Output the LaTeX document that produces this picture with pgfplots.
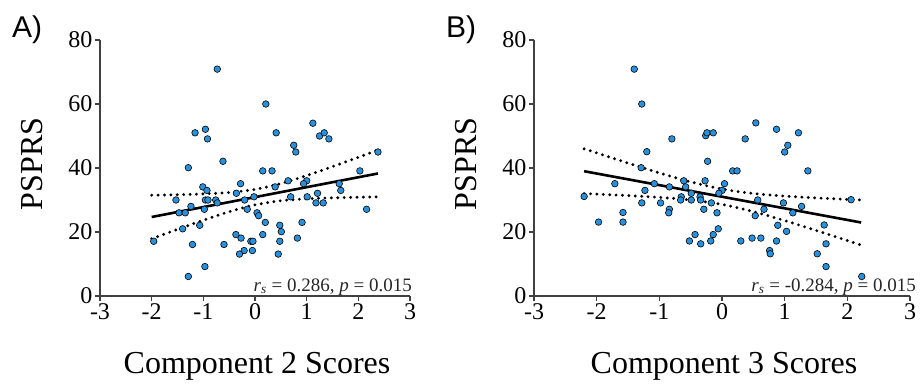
\documentclass[border=0pt]{standalone}
\usepackage{pgfplots}
\pgfplotsset{compat=1.18}
\usepackage{fontspec}
\setmainfont{Liberation Serif}
\newfontfamily\sansA{Liberation Sans}
\definecolor{dotblue}{RGB}{40,145,222}
\definecolor{axgray}{RGB}{64,64,64}

\begin{document}
\begin{tikzpicture}
\useasboundingbox (0,0) rectangle (920pt,384pt);
\pgfplotsset{
  myaxis/.style={
    scale only axis, height=256pt, anchor=south west,
    xmin=-3, xmax=3, ymin=0, ymax=80,
    axis x line*=bottom, axis y line*=left,
    tick align=outside, major tick length=5pt,
    xtick={-3,-2,-1,0,1,2,3}, xticklabels={-3,-2,-1,0,1,2,3},
    ytick={0,20,40,60,80}, yticklabels={0,20,40,60,80},
    tick label style={font=\fontsize{24}{24}\selectfont, inner sep=2.5pt},
    axis line style={line width=1.5pt, color=axgray},
    tick style={line width=1.3pt, color=axgray},
    clip=false,
  },
  pts/.style={only marks, mark=*, mark size=3.3pt, mark options={fill=dotblue, draw=black, line width=0.6pt}},
  fit/.style={black, line width=2.6pt, no marks},
  ci/.style={black, line width=3.2pt, dash pattern=on 0pt off 6.4pt, line cap=round, no marks, smooth},
}

% ---------------- Panel A ----------------
\begin{axis}[myaxis, width=310pt, at={(100pt,88pt)}]
\addplot[ci] coordinates {(-2,31.50) (-1.5,31.65) (-1,31.91) (-0.5,32.36) (0,33.32) (0.5,35.14) (1,37.64) (1.5,40.44) (2,43.35) (2.38,45.61)};
\addplot[ci] coordinates {(-2,17.88) (-1.5,20.83) (-1,23.69) (-0.5,26.34) (0,28.48) (0.5,29.76) (1,30.38) (1.5,30.68) (2,30.87) (2.38,30.97)};
\addplot[fit] coordinates {(-2,24.69) (2.38,38.29)};
\addplot[pts] coordinates {
(-0.73,70.9) (0.21,60) (1.12,54) (-0.96,52.1) (-1.16,51.0) (-0.92,49.1) (0.41,51.0)
(1.25,50) (1.34,51) (1.43,49.1) (0.75,47.1) (0.79,45) (2.38,45) (-0.62,42.1)
(-1.29,40.1) (0.15,39.1) (0.33,39.1) (2.03,39.1) (1.0,36) (0.94,35.1) (1.63,35.1)
(0.64,36) (-0.28,35.1) (0.39,34.1) (-1.01,34.1) (-0.93,33) (-0.36,32.1) (1.66,33)
(1.21,32.1) (-0.02,31) (0.69,31) (1.01,31) (-1.53,30) (-0.96,30) (-0.91,30)
(-0.76,30) (-0.2,30) (1.18,29.1) (1.32,29.1) (-0.73,29.1) (-1.24,28) (-0.98,27.1)
(-0.15,27.1) (2.16,27.1) (-1.47,26) (-1.35,26) (0.04,26) (0.07,25.1) (0.2,23)
(0.91,23) (-1.07,22.1) (0.48,22.1) (-1.4,21) (0.51,20.1) (-0.37,19.2) (0.15,19.2)
(-0.27,18.1) (0.82,18.1) (-1.96,17.1) (-0.08,17.1) (-0.04,17.1) (0.48,17.1)
(-1.21,16.1) (-0.6,16.1) (-0.21,14.2) (-0.05,14.2) (-0.3,13.1) (0.45,13.1)
(-0.97,9.2) (-1.29,6.1)};
\node[anchor=base east, inner sep=0pt, font=\fontsize{19}{19}\selectfont, text=black!85]
  at (rel axis cs:1,0) [xshift=2pt, yshift=5pt] {\textit{r}\textsubscript{\textit{s}} = 0.286, \textit{p} = 0.015};
\end{axis}

% ---------------- Panel B ----------------
\begin{axis}[myaxis, width=376pt, at={(534pt,88pt)}]
\addplot[ci] coordinates {(-2.2,45.99) (-1.5,41.54) (-1,38.48) (-0.5,35.66) (0,33.42) (0.5,32.04) (1,31.22) (1.5,30.66) (2,30.19) (2.2,30.03)};
\addplot[ci] coordinates {(-2.2,32.01) (-1.5,31.38) (-1,30.82) (-0.5,30.0) (0,28.62) (0.5,26.38) (1,23.56) (1.5,20.5) (2,17.33) (2.2,16.05)};
\addplot[fit] coordinates {(-2.2,39.0) (2.22,22.97)};
\addplot[pts] coordinates {
(-1.40,70.9) (-1.28,60) (0.54,54.1) (0.87,52.1) (1.22,51) (-0.26,50.1) (-0.24,51)
(-0.14,51) (-0.8,49.1) (0.37,49.1) (1.05,47.1) (1.0,45) (-1.2,45.1) (-0.23,42.1)
(-1.29,40.1) (0.17,39.1) (0.24,39.1) (1.37,39.1) (-0.61,36) (-0.27,36) (-1.71,35.1)
(-1.08,35.1) (-0.84,34.1) (-0.58,34.1) (0.04,35.1) (0,33) (-0.05,32.1) (-1.23,33)
(-0.49,32.1) (-0.65,31) (-0.35,31) (-2.2,31.1) (-0.66,30) (-0.49,30) (-0.34,30)
(0.57,30) (2.06,30.1) (-1.28,29.1) (-0.98,29.1) (-0.17,29.1) (0.98,29.1) (1.27,28)
(-0.29,27.1) (-0.84,27.1) (0.67,27.1) (-1.58,26.1) (-0.85,26) (-0.08,26) (1.13,26)
(0.53,25.1) (-1.97,23.1) (-1.58,23.1) (0.89,22.1) (1.63,22.2) (-0.06,21) (1.03,20.2)
(-0.43,19.2) (-0.14,19.2) (0.48,18.1) (0.62,18.1) (-0.52,17.2) (-0.18,17.2)
(0.3,17.2) (0.87,17.2) (-0.34,16.3) (1.66,16.3) (0.76,14.2) (0.77,13.2) (1.52,13.2)
(1.66,9.2) (2.23,6.1)};
\node[anchor=base east, inner sep=0pt, font=\fontsize{19}{19}\selectfont, text=black!85]
  at (rel axis cs:1,0) [xshift=6pt, yshift=5pt] {\textit{r}\textsubscript{\textit{s}} = -0.284, \textit{p} = 0.015};
\end{axis}

% labels
\node[rotate=90, font=\fontsize{32}{32}\selectfont, inner sep=0pt] at (32pt,220pt) {PSPRS};
\node[rotate=90, font=\fontsize{32}{32}\selectfont, inner sep=0pt] at (466pt,220pt) {PSPRS};
\node[anchor=base, font=\fontsize{32}{32}\selectfont, inner sep=0pt] at (257pt,11pt) {Component 2 Scores};
\node[anchor=base, font=\fontsize{32}{32}\selectfont, inner sep=0pt] at (724pt,11pt) {Component 3 Scores};
\node[anchor=base west, font=\sansA\fontsize{30}{30}\selectfont, inner sep=0pt] at (12pt,347pt) {A)};
\node[anchor=base west, font=\sansA\fontsize{30}{30}\selectfont, inner sep=0pt] at (446pt,347pt) {B)};
\end{tikzpicture}
\end{document}
